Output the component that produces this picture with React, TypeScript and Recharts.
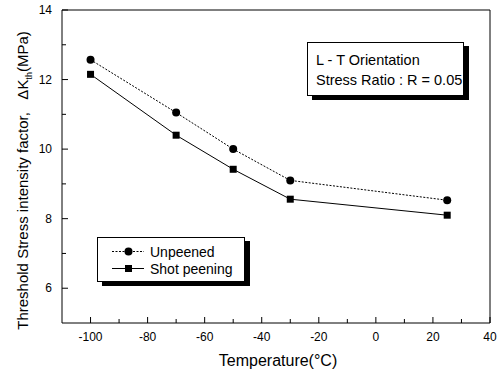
import { ComposedChart, Line, XAxis, YAxis, ReferenceArea, Legend, Label } from "recharts"

const temperatures = [-100, -70, -50, -30, 25]
const unpeened = [12.57, 11.05, 10.0, 9.1, 8.53]
const shotPeening = [12.15, 10.4, 9.42, 8.56, 8.1]

const xTicks = [-100, -90, -80, -70, -60, -50, -40, -30, -20, -10, 0, 10, 20, 30, 40]
const yTicks = [6, 7, 8, 9, 10, 11, 12, 13, 14]

const data = temperatures.map((t, i) => ({ t, unpeened: unpeened[i], shot: shotPeening[i] }))

const FONT = '"Liberation Sans", Arial, sans-serif'

function XTick({ x, y, payload }: any) {
  const v = payload.value
  const major = v % 20 === 0
  return (
    <g>
      <line x1={x} x2={x} y1={y} y2={y - (major ? 6 : 4)} stroke="#000" />
      {major && (
        <text x={x} y={y + 18} textAnchor="middle" fontSize={12} fontFamily={FONT} fill="#000">
          {v}
        </text>
      )}
    </g>
  )
}

function YTick({ x, y, payload }: any) {
  const v = payload.value
  const major = v % 2 === 0
  return (
    <g>
      <line x1={x} x2={x + (major ? 6 : 4)} y1={y} y2={y} stroke="#000" />
      {major && (
        <text x={x - 10} y={y + 4} textAnchor="end" fontSize={12} fontFamily={FONT} fill="#000">
          {v}
        </text>
      )}
    </g>
  )
}

function SquareDot({ cx, cy }: any) {
  if (cx == null || cy == null) return null
  return <rect x={cx - 3.5} y={cy - 3.5} width={7} height={7} fill="#000" />
}

function YTitle({ viewBox }: any) {
  const cx = 28
  const cy = viewBox.y + viewBox.height / 2 + 14
  return (
    <text
      x={cx}
      y={cy}
      transform={`rotate(-90 ${cx} ${cy})`}
      textAnchor="middle"
      fontSize={15}
      fontFamily={FONT}
      fill="#000"
      style={{ whiteSpace: "pre" }}
    >
      {"Threshold Stress intensity factor,   \u0394K"}
      <tspan fontSize={9} dy={4}>th</tspan>
      <tspan dy={-4}>(MPa)</tspan>
    </text>
  )
}

function XTitle({ viewBox }: any) {
  return (
    <text
      x={viewBox.x + viewBox.width / 2 + 2}
      y={viewBox.y + 43}
      textAnchor="middle"
      fontSize={16}
      fontFamily={FONT}
      fill="#000"
    >
      Temperature(°C)
    </text>
  )
}

function LegendBox() {
  const rows = [
    { name: "Unpeened", dash: "2 1.5", square: false },
    { name: "Shot peening", dash: undefined, square: true },
  ]
  return (
    <div
      style={{
        width: 148,
        height: 45,
        border: "1px solid #000",
        background: "#fff",
        boxShadow: "5px 4px 0 #000",
        fontFamily: FONT,
        fontSize: 14,
        boxSizing: "border-box",
        paddingTop: 5,
      }}
    >
      {rows.map((r) => (
        <div key={r.name} style={{ display: "flex", alignItems: "center", height: 17 }}>
          <svg width={52} height={17}>
            <line x1={14} x2={46} y1={8.5} y2={8.5} stroke="#000" strokeDasharray={r.dash} />
            {r.square ? (
              <rect x={27} y={5} width={7} height={7} fill="#000" />
            ) : (
              <circle cx={30.5} cy={8.5} r={4} fill="#000" />
            )}
          </svg>
          <span style={{ color: "#000" }}>{r.name}</span>
        </div>
      ))}
    </div>
  )
}

export default function App() {
  return (
    <div style={{ position: "absolute", left: 0, top: 0, width: 502, height: 372, background: "#fff" }}>
      <ComposedChart width={502} height={372} data={data} margin={{ top: 10, right: 12, left: 0, bottom: 0 }}>
        <XAxis
          dataKey="t"
          type="number"
          domain={[-110, 40]}
          ticks={xTicks}
          interval={0}
          height={49}
          axisLine={false}
          tickLine={false}
          tickSize={0}
          tickMargin={0}
          tick={<XTick />}
        >
          <Label content={<XTitle />} />
        </XAxis>
        <YAxis
          type="number"
          domain={[5, 14]}
          ticks={yTicks}
          interval={0}
          width={62}
          axisLine={false}
          tickLine={false}
          tickSize={0}
          tickMargin={0}
          tick={<YTick />}
        >
          <Label content={<YTitle />} />
        </YAxis>
        <ReferenceArea x1={-110} x2={40} y1={5} y2={14} fill="none" fillOpacity={0} stroke="#000" strokeWidth={1} />
        <Legend
          layout="vertical"
          align="center"
          verticalAlign="middle"
          wrapperStyle={{ left: 97, top: 237, width: 150 }}
          content={<LegendBox />}
        />
        <Line
          dataKey="unpeened"
          name="Unpeened"
          stroke="#000"
          strokeWidth={1}
          strokeDasharray="2 1.5"
          dot={{ r: 4, fill: "#000", stroke: "#000", strokeWidth: 0, strokeDasharray: "" }}
          isAnimationActive={false}
        />
        <Line
          dataKey="shot"
          name="Shot peening"
          stroke="#000"
          strokeWidth={1}
          dot={<SquareDot />}
          isAnimationActive={false}
        />
      </ComposedChart>
      <div
        style={{
          position: "absolute",
          left: 307,
          top: 42,
          width: 157,
          height: 54,
          border: "1px solid #000",
          background: "#fff",
          boxShadow: "5px 4px 0 #000",
          boxSizing: "border-box",
          fontFamily: FONT,
          fontSize: 14.5,
          color: "#000",
          paddingLeft: 8,
          paddingTop: 7,
          lineHeight: "20px",
          whiteSpace: "nowrap",
        }}
      >
        <div>L - T Orientation</div>
        <div>Stress Ratio : R = 0.05</div>
      </div>
    </div>
  )
}
